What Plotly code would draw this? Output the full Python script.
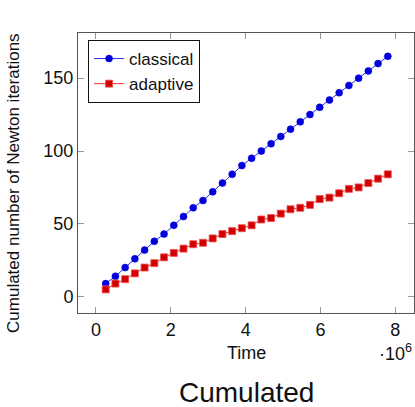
import plotly.graph_objects as go

# Time in units of 1e6
time_millions = [0.26, 0.52, 0.78, 1.04, 1.30, 1.56, 1.82, 2.08, 2.34, 2.60,
                 2.86, 3.12, 3.38, 3.64, 3.90, 4.16, 4.42, 4.68, 4.94, 5.20,
                 5.46, 5.72, 5.98, 6.24, 6.50, 6.76, 7.02, 7.28, 7.54, 7.80]
classical = [9, 14, 20, 26, 32, 38, 43, 49, 55, 61,
             66, 72, 78, 84, 90, 95, 100, 105, 110, 115,
             120, 125, 130, 135, 140, 145, 150, 155, 160, 165]
adaptive = [5, 9, 12, 16, 20, 23, 27, 30, 33, 36,
            37, 40, 43, 45, 47, 49, 53, 54, 57, 60,
            61, 63, 67, 68, 71, 74, 75, 78, 81, 84]
x_ticks = [0, 2, 4, 6, 8]
y_ticks = [0, 50, 100, 150]

FONT = "Liberation Sans, Arial, sans-serif"

fig = go.Figure()
fig.add_trace(go.Scatter(
    x=time_millions, y=classical, name="classical", mode="lines+markers",
    line=dict(color="#2a2aff", width=1),
    marker=dict(symbol="circle", size=7, color="#0000dd",
                line=dict(color="#0000dd", width=0.5)),
))
fig.add_trace(go.Scatter(
    x=time_millions, y=adaptive, name="adaptive", mode="lines+markers",
    line=dict(color="#f03030", width=1),
    marker=dict(symbol="square", size=7, color="#d00000",
                line=dict(color="#f05050", width=0.8)),
))

axis_common = dict(
    showline=True, mirror="allticks", linecolor="#555555", linewidth=1,
    ticks="inside", ticklen=6, tickcolor="#999999", tickwidth=1,
    showgrid=False, zeroline=False,
    tickfont=dict(family=FONT, size=18, color="#111111"),
)

fig.update_layout(
    width=415, height=407,
    margin=dict(l=78, r=1, t=33, b=94),
    paper_bgcolor="white", plot_bgcolor="white",
    font=dict(family=FONT, color="#111111"),
    xaxis=dict(range=[-0.48, 8.5], tickvals=x_ticks,
               ticktext=[str(v) for v in x_ticks], **axis_common),
    yaxis=dict(range=[-11.2, 181], tickvals=y_ticks, **axis_common),
    showlegend=True,
    legend=dict(x=0.03, y=0.975, xanchor="left", yanchor="top",
                bordercolor="#111111", borderwidth=1, bgcolor="white",
                font=dict(family=FONT, size=17, color="#111111"),
                itemwidth=30, tracegroupgap=0),
    annotations=[
        dict(text="Time", xref="paper", yref="paper", x=0.5, y=-0.143,
             xanchor="center", yanchor="middle", showarrow=False,
             font=dict(family=FONT, size=18, color="#111111")),
        dict(text="·10<sup>6</sup>", xref="paper", yref="paper", x=0.945, y=-0.14,
             xanchor="center", yanchor="middle", showarrow=False,
             font=dict(family=FONT, size=18, color="#111111")),
        dict(text="Cumulated number of Newton iterations", xref="paper", yref="paper",
             x=-0.19, y=0.465, xanchor="center", yanchor="middle", textangle=-90,
             showarrow=False, font=dict(family=FONT, size=17, color="#111111")),
        dict(text="Cumulated", xref="paper", yref="paper", x=0.5, y=-0.285,
             xanchor="center", yanchor="middle", showarrow=False,
             font=dict(family=FONT, size=28, color="#111111")),
    ],
)

fig.write_html("out.html")
